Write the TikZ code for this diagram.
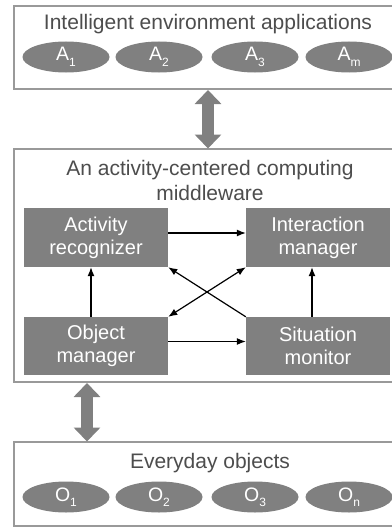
\documentclass[tikz,border=0pt]{standalone}
\usepackage{fontspec}
\setmainfont{Liberation Sans}
\usetikzlibrary{shapes.geometric,arrows.meta}
\definecolor{boxgray}{HTML}{808080}
\definecolor{edgegray}{HTML}{999999}
\definecolor{titlegray}{HTML}{4D4D4D}
\newcommand{\lowsub}[1]{\raisebox{-5.5pt}{\fontsize{12}{12}\selectfont #1}}
\begin{document}
\begin{tikzpicture}[x=1pt,y=-1pt,
  layer/.style={draw=edgegray, line width=1.6pt, fill=white},
  layertitle/.style={text=titlegray, font=\fontsize{21}{25}\selectfont, align=center, inner sep=0pt},
  oval/.style={ellipse, fill=boxgray, text=white, minimum width=87pt, minimum height=31pt, inner sep=0pt, font=\fontsize{19.5}{24}\selectfont},
  module/.style={rectangle, fill=boxgray, text=white, minimum width=144pt, minimum height=59pt, align=center, inner sep=0pt, font=\fontsize{20}{23}\selectfont},
  link/.style={black, line width=1.2pt, -{Latex[length=9pt,width=7pt]}},
  biglink/.style={draw=boxgray, line width=12pt, {Triangle[length=14pt,width=26pt]}-{Triangle[length=14pt,width=26pt]}}
]
\useasboundingbox (0,0) rectangle (391,527);
% top layer
\draw[layer] (14,6) rectangle (395,89);
\node[layertitle] (t1) at (208,24) {Intelligent environment applications};
\node[oval] (a1) at (66,57) {A\lowsub{1}};
\node[oval] (a2) at (159,57) {A\lowsub{2}};
\node[oval] (a3) at (255,57) {A\lowsub{3}};
\node[oval] (am) at (349,57) {A\lowsub{m}};
% middle layer
\draw[layer] (14,149) rectangle (395,382);
\node[layertitle] (t2) at (210,180) {An activity-centered computing\\middleware};
\node[module] (ar) at (96,237.5) {Activity\\recognizer};
\node[module] (im) at (318,237.5) {Interaction\\manager};
\node[module, minimum height=58pt] (om) at (96,346) {Object\\manager};
\node[module, minimum height=58pt] (sm) at (318,346) {Situation\\monitor};
% bottom layer
\draw[layer] (14,442) rectangle (395,526);
\node[layertitle] (t3) at (210,463) {Everyday objects};
\node[oval] (o1) at (66,497) {O\lowsub{1}};
\node[oval] (o2) at (159,497) {O\lowsub{2}};
\node[oval] (o3) at (255,497) {O\lowsub{3}};
\node[oval] (on) at (349,497) {O\lowsub{n}};
% block arrows between layers
\coordinate (u1) at (208,90);
\coordinate (u2) at (208,148.5);
\coordinate (d1) at (87,383);
\coordinate (d2) at (87,441.5);
\draw[biglink] (u1) -- (u2);
\draw[biglink] (d1) -- (d2);
% module connections
\draw[link] ([yshift=4.5pt]ar.east) -- ([yshift=4.5pt]im.west);
\draw[link] ([yshift=4.5pt]om.east) -- ([yshift=4.5pt]sm.west);
\draw[link] ([xshift=-5pt]om.north) -- ([xshift=-5pt]ar.south);
\draw[link] ([xshift=-6pt]sm.north) -- ([xshift=-6pt]im.south);
\draw[link] (sm.north west) -- (ar.south east);
\draw[link, {Latex[length=9pt,width=7pt]}-{Latex[length=9pt,width=7pt]}] (om.north east) -- (im.south west);
\end{tikzpicture}
\end{document}
